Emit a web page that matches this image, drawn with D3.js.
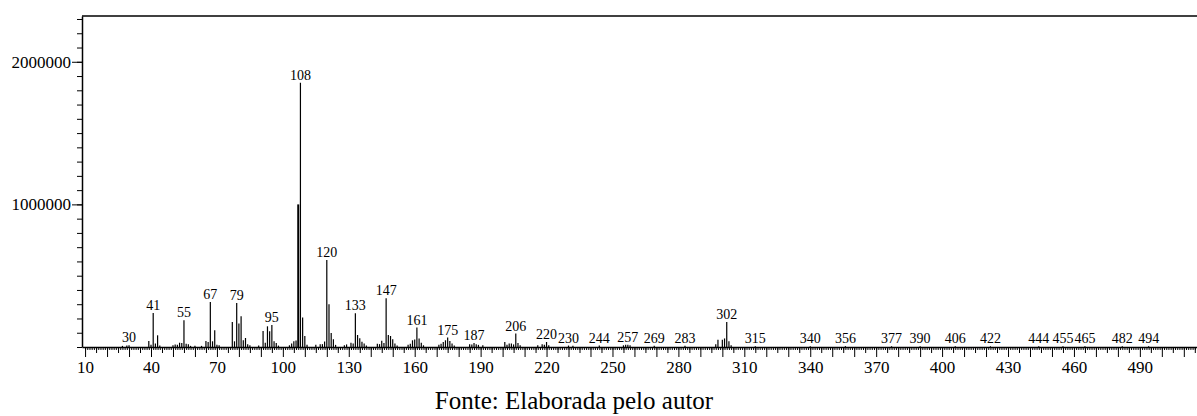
<!DOCTYPE html>
<html>
<head>
<meta charset="utf-8">
<script src="https://cdn.jsdelivr.net/npm/d3@7"></script>
<style>
  body { margin: 0; background: #fff; }
  svg { display: block; }
  .axis path, .axis line { stroke: #000; }
</style>
</head>
<body>
<svg id="chart"></svg>
<script>
// m/z of each peak and its abundance
const mzValues = [27, 29, 30, 39, 40, 41, 42, 43, 44, 50, 51, 52, 53, 54, 55, 56, 57, 58, 60, 63,
  65, 66, 67, 68, 69, 70, 71, 77, 78, 79, 80, 81, 82, 83, 84, 85, 89, 91, 92, 93,
  94, 95, 96, 97, 98, 103, 104, 105, 106, 107, 108, 109, 110, 111, 115, 117, 118, 119, 120, 121,
  122, 123, 124, 128, 129, 131, 132, 133, 134, 135, 136, 137, 138, 143, 144, 145, 146, 147, 148, 149,
  150, 151, 152, 157, 158, 159, 160, 161, 162, 163, 164, 171, 172, 173, 174, 175, 176, 177, 178, 185,
  186, 187, 188, 189, 191, 201, 202, 203, 204, 205, 206, 207, 208, 216, 218, 219, 220, 221, 230, 232,
  244, 255, 256, 257, 258, 269, 283, 297, 298, 300, 301, 302, 303, 304, 315, 340, 356, 377, 390, 406,
  422, 444, 455, 465, 482, 494];
const abundance = [8000, 10000, 12000, 42000, 15000, 238000, 25000, 82000, 10000, 12000, 18000, 15000, 30000, 28000, 187000, 22000, 20000, 8000, 8000, 8000,
  42000, 35000, 316000, 40000, 117000, 15000, 12000, 175000, 40000, 309000, 164000, 215000, 47000, 63000, 20000, 12000, 10000, 112000, 30000, 145000,
  110000, 154000, 40000, 28000, 10000, 12000, 25000, 40000, 45000, 1000000, 1853000, 207000, 77000, 15000, 15000, 20000, 20000, 38000, 610000, 300000,
  98000, 55000, 15000, 12000, 18000, 30000, 25000, 236000, 84000, 62000, 36000, 25000, 10000, 22000, 20000, 44000, 28000, 341000, 84000, 77000,
  55000, 25000, 10000, 15000, 22000, 47000, 53000, 136000, 60000, 30000, 12000, 15000, 22000, 35000, 47000, 66000, 42000, 25000, 10000, 20000,
  18000, 28000, 20000, 15000, 12000, 35000, 15000, 25000, 25000, 18000, 94000, 28000, 12000, 12000, 20000, 15000, 35000, 12000, 10000, 8000,
  10000, 12000, 15000, 15000, 12000, 8000, 8000, 20000, 50000, 50000, 60000, 175000, 40000, 12000, 6000, 6000, 6000, 5000, 5000, 5000,
  5000, 5000, 5000, 5000, 5000, 5000];

// peaks that carry a label
const labelledPeaks = [30, 41, 55, 67, 79, 95, 108, 120, 133, 147, 161, 175, 187, 206, 220, 230, 244, 257,
  269, 283, 302, 315, 340, 356, 377, 390, 406, 422, 444, 455, 465, 482, 494];

const xTickLabels = [10, 40, 70, 100, 130, 160, 190, 220, 250, 280, 310, 340, 370, 400, 430, 460, 490];
const yTickLabels = [1000000, 2000000];
const caption = "Fonte: Elaborada pelo autor";

const width = 1197, height = 416;
const margin = {top: 16, left: 82, bottom: 347};
const serif = "'Liberation Serif', 'Times New Roman', serif";

const svg = d3.select("#chart")
    .attr("width", width)
    .attr("height", height);

const x = d3.scaleLinear()
    .domain([8.6, 516])
    .range([margin.left, width]);

const y = d3.scaleLinear()
    .domain([0, 2321000])
    .range([margin.bottom, margin.top]);

const peaks = mzValues.map((m, i) => ({mz: m, value: abundance[i]}));
const peakByMz = new Map(peaks.map(d => [d.mz, d]));

// x axis: minor ticks every unit, medium every 5, long every 10
const xMinor = svg.append("g").attr("class", "axis")
    .attr("transform", `translate(0,${margin.bottom})`)
    .call(d3.axisBottom(x).tickValues(d3.range(10, 516, 1)).tickSize(3).tickSizeOuter(0).tickFormat(""));
xMinor.select(".domain").attr("stroke-width", 1.5);

svg.append("g").attr("class", "axis")
    .attr("transform", `translate(0,${margin.bottom})`)
    .call(d3.axisBottom(x).tickValues(d3.range(15, 516, 10)).tickSize(6).tickFormat(""))
    .call(g => g.select(".domain").remove());

const xMajor = svg.append("g").attr("class", "axis")
    .attr("transform", `translate(0,${margin.bottom})`)
    .call(d3.axisBottom(x).tickValues(d3.range(10, 516, 10)).tickSize(10).tickPadding(4)
        .tickFormat(d => xTickLabels.includes(d) ? d : ""))
    .call(g => g.select(".domain").remove());
xMajor.selectAll("text")
    .attr("font-family", serif)
    .attr("font-size", 17)
    .attr("fill", "#000");

// y axis
const yMinor = svg.append("g").attr("class", "axis")
    .attr("transform", `translate(${margin.left},0)`)
    .call(d3.axisLeft(y).tickValues(d3.range(0, 2400000, 100000)).tickSize(5).tickSizeOuter(0).tickFormat(""));
yMinor.select(".domain").attr("stroke-width", 1.5);

const yMajor = svg.append("g").attr("class", "axis")
    .attr("transform", `translate(${margin.left},0)`)
    .call(d3.axisLeft(y).tickValues(yTickLabels).tickSize(10).tickPadding(1).tickFormat(d3.format("d")))
    .call(g => g.select(".domain").remove());
yMajor.selectAll("text")
    .attr("font-family", serif)
    .attr("font-size", 17)
    .attr("fill", "#000");

// top border
svg.append("line")
    .attr("x1", margin.left).attr("x2", width)
    .attr("y1", margin.top).attr("y2", margin.top)
    .attr("stroke", "#000")
    .attr("stroke-width", 1.5);

// peaks
svg.append("g")
    .selectAll("line")
    .data(peaks)
    .join("line")
    .attr("x1", d => x(d.mz)).attr("x2", d => x(d.mz))
    .attr("y1", y(0)).attr("y2", d => y(d.value))
    .attr("stroke", "#000")
    .attr("stroke-width", d => d.mz === 107 ? 2 : 1.2);

// peak labels
svg.append("g")
    .selectAll("text")
    .data(labelledPeaks)
    .join("text")
    .attr("x", d => x(d))
    .attr("y", d => y(peakByMz.get(d).value) - 3)
    .attr("text-anchor", "middle")
    .attr("font-family", serif)
    .attr("font-size", 14)
    .attr("fill", "#000")
    .text(d => d);

// caption
svg.append("text")
    .attr("x", 574)
    .attr("y", 409)
    .attr("text-anchor", "middle")
    .attr("font-family", serif)
    .attr("font-size", 25)
    .attr("fill", "#000")
    .text(caption);
</script>
</body>
</html>
